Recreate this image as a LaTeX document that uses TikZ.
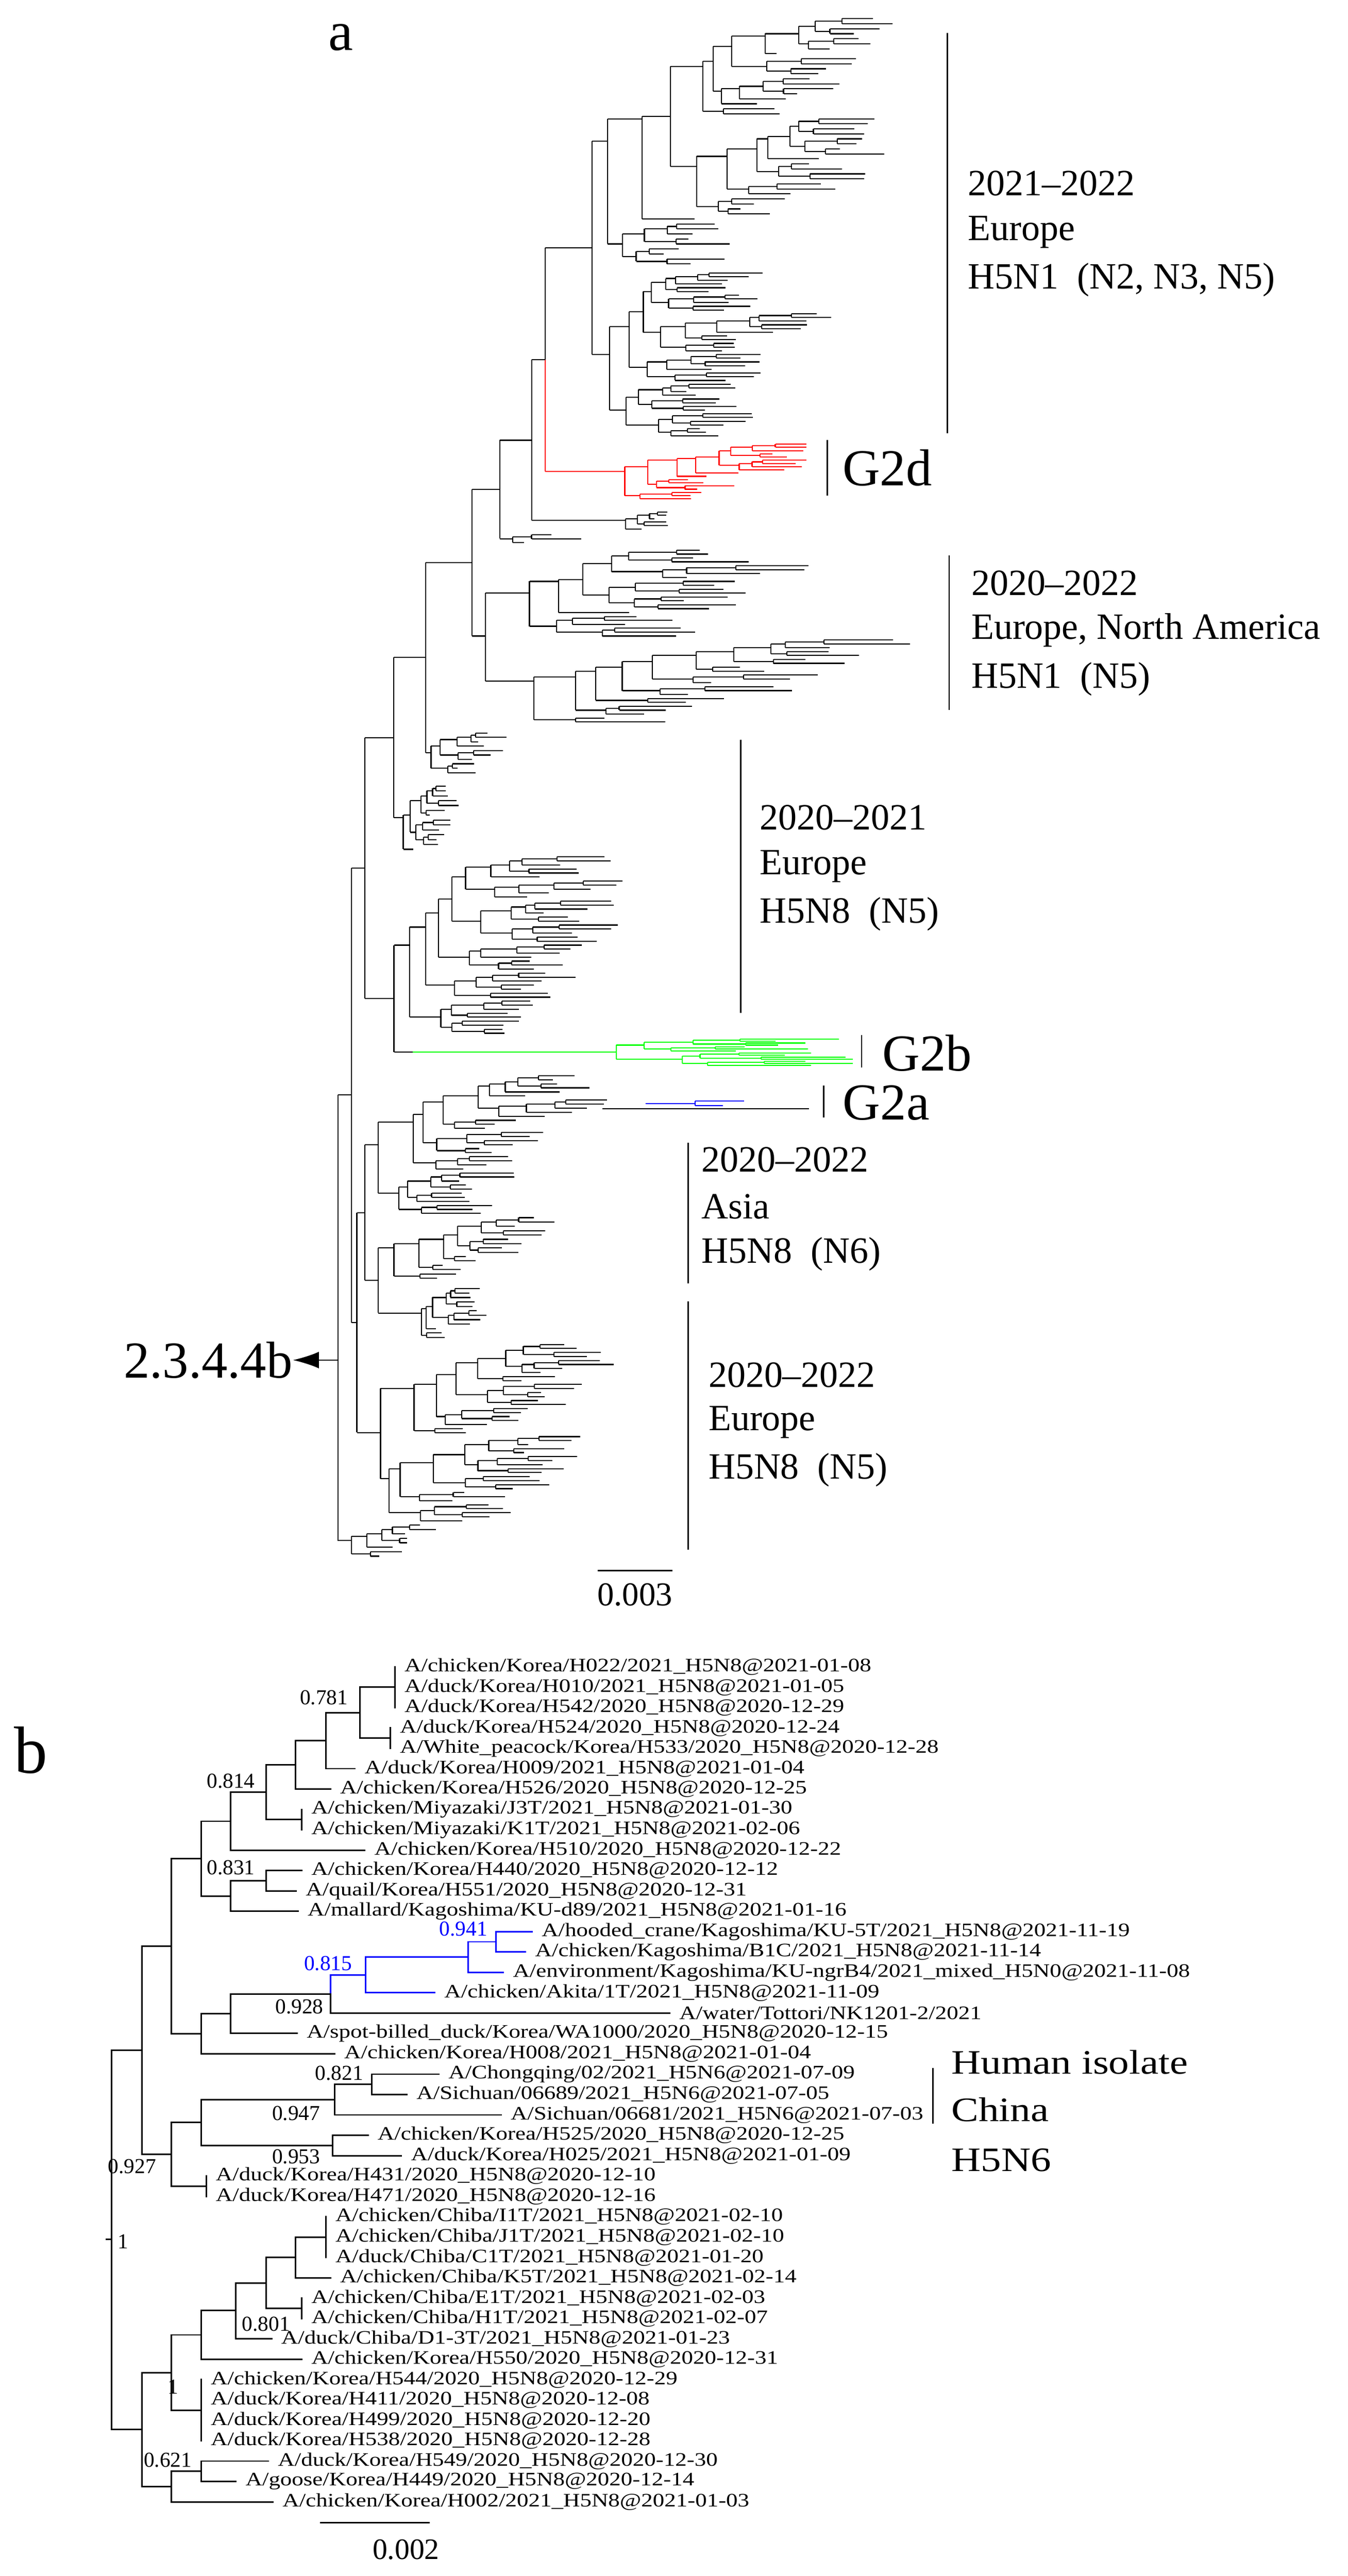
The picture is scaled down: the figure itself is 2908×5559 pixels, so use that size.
\documentclass[tikz,border=0pt]{standalone}
\usepackage{fontspec}
\setmainfont{Liberation Serif}
\usepackage{graphicx}
\usetikzlibrary{arrows.meta}
\newcommand\Yb[1]{{3597+(#1-1)*43.95}}
\newcommand\V[4][]{\draw[bl,#1] (#2,\Yb{#3})--(#2,\Yb{#4});}
\newcommand\Hb[4][]{\draw[bl,#1] (#2,\Yb{#4})--(#3,\Yb{#4});}
\newcommand\lf[3]{\node[lab] at ({#2+20},\Yb{#1}) {\scalebox{1}[0.82]{#3}};}
\def\lfac{1}
\newcommand\rt[5]{\begingroup
\pgfmathsetmacro\ym{\cyt+((#3+#4)/2-0.5)*\cdy}%
\draw[tl,\tc] (#1,\ym)--(#2,\ym);%
\ifnum#3<#4\relax
 \pgfmathtruncatemacro\nn{#4-#3}%
 \pgfmathsetmacro\pr{rnd}%
 \ifdim\pr pt<0.3pt \pgfmathtruncatemacro\sm{int((\nn+1)/2)}%
 \else \pgfmathtruncatemacro\sm{random(1,int(\nn/3)+1)}\fi
 \pgfmathtruncatemacro\kk{#4-\sm}%
 \pgfmathtruncatemacro\kp{\kk+1}%
 \pgfmathsetmacro\yu{\cyt+((#3+\kk)/2-0.5)*\cdy}%
 \pgfmathsetmacro\yl{\cyt+((\kp+#4)/2-0.5)*\cdy}%
 \draw[tl,\tc] (#2,\yu)--(#2,\yl);%
 \ifnum#3=\kk\relax \pgfmathsetmacro\xu{min(#5,#2+(0.2+rnd)*\Ll)}\else \pgfmathsetmacro\xu{max(#2+2,min(#5-20,#2+(0.3+rnd)*\Li))}\fi
 \ifnum\kp=#4\relax \pgfmathsetmacro\xl{min(#5,#2+(0.2+rnd)*\Ll)}\else \pgfmathsetmacro\xl{max(#2+2,min(#5-20,#2+(0.3+rnd)*\Li))}\fi
 \edef\next{\noexpand\rt{#2}{\xu}{#3}{\kk}{#5}\noexpand\rt{#2}{\xl}{\kp}{#4}{#5}}\next
\fi\endgroup}
\newcommand\clade[7]{\def\tc{#7}\pgfmathsetmacro\cyt{#3}\pgfmathsetmacro\cdy{(#4-#3)/#5}%
 \pgfmathsetmacro\Li{\lfac*(#6-#2)/11}\pgfmathsetmacro\Ll{\lfac*(#6-#2)/6}%
 \rt{#1}{#2}{1}{#5}{#6}}
\begin{document}
\begin{tikzpicture}[x=0.25pt,y=-0.25pt,
 tl/.style={line width=0.6pt},
 bl/.style={line width=0.8pt,line cap=rect},
 bar/.style={line width=0.7pt},
 lab/.style={anchor=west,inner sep=0pt,font=\fontsize{12.5}{13}\selectfont},
 sup/.style={inner sep=0pt,font=\fontsize{11.5}{12}\selectfont},
 ta/.style={anchor=west,inner sep=0pt,font=\fontsize{20}{22}\selectfont},
 tg/.style={anchor=west,inner sep=0pt,font=\fontsize{28}{30}\selectfont}]
\useasboundingbox (0,0) rectangle (2908,5559);
\pgfmathsetseed{4711}
% ---------- part a ----------
\node[inner sep=0pt,font=\fontsize{30}{32}\selectfont] at (735,81) {a};
\clade{1277}{1311}{35}{575}{50}{1956}{black}
\clade{1277}{1315}{585}{945}{45}{1935}{black}
\draw[tl] (1277,305)--(1277,765);
\draw[tl] (1176,535)--(1277,535);
\draw[tl] (1176,535)--(1176,776);
\draw[tl,red] (1176,776)--(1176,1017);
\def\lfac{1.5}
\clade{1176}{1348}{955}{1080}{18}{1740}{red}
\def\lfac{1}
\draw[tl] (1147,776)--(1176,776);
\draw[tl] (1147,776)--(1147,1123);
\clade{1147}{1350}{1101}{1145}{6}{1626}{black}
\draw[tl] (1078,950)--(1147,950);
\draw[tl] (1078,950)--(1078,1162);
\clade{1078}{1106}{1150}{1175}{3}{1650}{black}
\draw[tl] (1018,1056)--(1078,1056);
\draw[tl] (1018,1056)--(1018,1372);
\clade{1018}{1047}{1183}{1562}{45}{2022}{black}
\draw[tl] (918,1214)--(1018,1214);
\draw[tl] (918,1214)--(918,1624);
\clade{918}{930}{1577}{1672}{10}{1275}{black}
\draw[tl] (849,1419)--(918,1419);
\draw[tl] (849,1419)--(849,1764);
\clade{849}{870}{1691}{1838}{14}{1085}{black}
\draw[tl] (787,1592)--(849,1592);
\draw[tl] (850,2040)--(850,2270);
\clade{850}{884}{1845}{2234}{45}{1554}{black}
\draw[tl] (850,2270)--(891,2270);
\def\lfac{2.4}
\clade{891}{1330}{2240}{2301}{14}{1840}{green}
\def\lfac{1}
\draw[tl] (787,2155)--(850,2155);
\draw[tl] (787,1592)--(787,2155);
\draw[tl] (758,1873)--(787,1873);
\clade{787}{816}{2317}{2623}{35}{1466}{black}
\draw[tl,blue] (1393,2381)--(1500,2381);
\draw[tl,blue] (1500,2376)--(1500,2386);
\draw[tl,blue] (1500,2376)--(1605,2376);
\draw[tl,blue] (1500,2386)--(1560,2386);
\draw[tl] (1300,2393)--(1745,2393);
\draw[tl] (816,2693)--(816,2833);
\clade{816}{850}{2623}{2763}{15}{1378}{black}
\clade{816}{909}{2776}{2891}{12}{1202}{black}
\draw[tl] (787,2763)--(816,2763);
\draw[tl] (787,2470)--(787,2763);
\draw[tl] (770,2617)--(787,2617);
\draw[tl] (770,2617)--(770,3091);
\clade{770}{821}{2897}{3286}{45}{1459}{black}
\draw[tl] (758,2854)--(770,2854);
\draw[tl] (758,1873)--(758,2854);
\draw[tl] (729,2363)--(758,2363);
\clade{729}{758}{3286}{3363}{8}{1114}{black}
\draw[tl] (729,2363)--(729,3325);
\coordinate (rootA) at (729,2935);
\node[inner sep=0pt,anchor=east,font=\fontsize{28}{30}\selectfont] (lab234) at (632,2935) {2.3.4.4b};
\draw[tl,-{Latex[length=14pt,width=9pt]}] (rootA) -- (lab234.east);
% bars and clade labels
\draw[bar] (2044,71)--(2044,935);
\node[ta] at (2088,396) {2021–2022};
\node[ta] at (2088,501) {Europe};
\node[ta] at (2088,604) {H5N1\ \ (N2, N3, N5)};
\draw[bar] (1785,949)--(1785,1069);
\node[tg] at (1817,1009) {G2d};
\draw[bar] (2048,1199)--(2048,1532);
\node[ta] at (2095,1259) {2020–2022};
\node[ta] at (2095,1360) {Europe, North America};
\node[ta] at (2095,1465) {H5N1\ \ (N5)};
\draw[bar] (1598,1596)--(1598,2186);
\node[ta] at (1639,1764) {2020–2021};
\node[ta] at (1639,1870) {Europe};
\node[ta] at (1639,1972) {H5N8\ \ (N5)};
\draw[bar] (1859,2234)--(1859,2304);
\node[tg] at (1903,2272) {G2b};
\draw[bar] (1777,2342)--(1777,2412);
\node[tg] at (1818,2380) {G2a};
\draw[bar] (1485,2466)--(1485,2770);
\node[ta] at (1513,2502) {2020–2022};
\node[ta] at (1513,2604) {Asia};
\node[ta] at (1513,2706) {H5N8\ \ (N6)};
\draw[bar] (1485,2808)--(1485,3344);
\node[ta] at (1528,2967) {2020–2022};
\node[ta] at (1528,3069) {Europe};
\node[ta] at (1528,3172) {H5N8\ \ (N5)};
\draw[bar] (1290,3389)--(1451,3389);
\node[inner sep=0pt,font=\fontsize{18}{20}\selectfont] at (1370,3442) {0.003};
% ---------- part b ----------
\node[inner sep=0pt,font=\fontsize{36}{38}\selectfont] at (67,3777) {b};
\V{852}{1}{3}
\V{842}{4}{5}
\V{777}{2}{4.5} \Hb{777}{852}{2} \Hb{777}{842}{4.5}
\V{703}{3.25}{6} \Hb{703}{777}{3.25} \Hb{703}{766}{6}
\V{638}{4.625}{7} \Hb{638}{703}{4.625} \Hb{638}{713}{7}
\V{651}{8}{9}
\V{574}{5.81}{8.5} \Hb{574}{638}{5.81} \Hb{574}{651}{8.5}
\V{498}{7.16}{10} \Hb{498}{574}{7.16} \Hb{498}{787}{10}
\V{574}{11}{12} \Hb{574}{651}{11} \Hb{574}{639}{12}
\V{498}{11.5}{13} \Hb{498}{574}{11.5} \Hb{498}{643}{13}
\V{434}{8.58}{12.25} \Hb{434}{498}{8.58} \Hb{434}{498}{12.25}
\V[blue]{1070}{14}{15} \Hb[blue]{1070}{1148}{14} \Hb[blue]{1070}{1134}{15}
\V[blue]{1010}{14.5}{16} \Hb[blue]{1010}{1070}{14.5} \Hb[blue]{1010}{1086}{16}
\V[blue]{789}{15.25}{17} \Hb[blue]{789}{1010}{15.25} \Hb[blue]{789}{938}{17}
\V[blue]{713}{16.125}{17.06} \V{713}{17.06}{18} \Hb[blue]{713}{789}{16.125} \Hb{713}{1445}{18}
\V{498}{17.06}{19} \Hb{498}{713}{17.06} \Hb{498}{641}{19}
\V{434}{18.03}{20} \Hb{434}{498}{18.03} \Hb{434}{722}{20}
\V{370}{10.41}{19.02} \Hb{370}{434}{10.41} \Hb{370}{434}{19.02}
\V{802}{21}{22} \Hb{802}{947}{21} \Hb{802}{878}{22}
\V{722}{21.5}{23} \Hb{722}{802}{21.5} \Hb{722}{1081}{23}
\V{718}{24}{25} \Hb{718}{794}{24} \Hb{718}{866}{25}
\V{434}{22.25}{24.5} \Hb{434}{722}{22.25} \Hb{434}{718}{24.5}
\V{445}{26}{27}
\V{370}{23.375}{26.5} \Hb{370}{434}{23.375} \Hb{370}{445}{26.5}
\V{306}{14.71}{24.94} \Hb{306}{370}{14.71} \Hb{306}{370}{24.94}
\V{703}{28}{30}
\V{638}{29}{31} \Hb{638}{703}{29} \Hb{638}{713}{31}
\V{651}{32}{33}
\V{574}{30}{32.5} \Hb{574}{638}{30} \Hb{574}{651}{32.5}
\V{509}{31.25}{34} \Hb{509}{574}{31.25} \Hb{509}{586}{34}
\V{434}{32.6}{35} \Hb{434}{509}{32.6} \Hb{434}{651}{35}
\V{434}{36}{39}
\V{370}{33.8}{37.5} \Hb{370}{434}{33.8} \Hb{370}{434}{37.5}
\V{434}{40}{41} \Hb{434}{579}{40} \Hb{434}{509}{41}
\V{370}{40.5}{42} \Hb{370}{434}{40.5} \Hb{370}{589}{42}
\V{306}{35.65}{41.25} \Hb{306}{370}{35.65} \Hb{306}{370}{41.25}
\V{241}{19.82}{38.45} \Hb{241}{306}{19.82} \Hb{241}{306}{38.45} \Hb{230}{241}{29.1}
% leaf labels
\lf{1}{852}{A/chicken/Korea/H022/2021\_H5N8@2021-01-08}
\lf{2}{852}{A/duck/Korea/H010/2021\_H5N8@2021-01-05}
\lf{3}{852}{A/duck/Korea/H542/2020\_H5N8@2020-12-29}
\lf{4}{842}{A/duck/Korea/H524/2020\_H5N8@2020-12-24}
\lf{5}{842}{A/White\_peacock/Korea/H533/2020\_H5N8@2020-12-28}
\lf{6}{766}{A/duck/Korea/H009/2021\_H5N8@2021-01-04}
\lf{7}{713}{A/chicken/Korea/H526/2020\_H5N8@2020-12-25}
\lf{8}{651}{A/chicken/Miyazaki/J3T/2021\_H5N8@2021-01-30}
\lf{9}{651}{A/chicken/Miyazaki/K1T/2021\_H5N8@2021-02-06}
\lf{10}{787}{A/chicken/Korea/H510/2020\_H5N8@2020-12-22}
\lf{11}{651}{A/chicken/Korea/H440/2020\_H5N8@2020-12-12}
\lf{12}{639}{A/quail/Korea/H551/2020\_H5N8@2020-12-31}
\lf{13}{643}{A/mallard/Kagoshima/KU-d89/2021\_H5N8@2021-01-16}
\lf{14}{1148}{A/hooded\_crane/Kagoshima/KU-5T/2021\_H5N8@2021-11-19}
\lf{15}{1134}{A/chicken/Kagoshima/B1C/2021\_H5N8@2021-11-14}
\lf{16}{1086}{A/environment/Kagoshima/KU-ngrB4/2021\_mixed\_H5N0@2021-11-08}
\lf{17}{938}{A/chicken/Akita/1T/2021\_H5N8@2021-11-09}
\lf{18}{1445}{A/water/Tottori/NK1201-2/2021}
\lf{19}{641}{A/spot-billed\_duck/Korea/WA1000/2020\_H5N8@2020-12-15}
\lf{20}{722}{A/chicken/Korea/H008/2021\_H5N8@2021-01-04}
\lf{21}{947}{A/Chongqing/02/2021\_H5N6@2021-07-09}
\lf{22}{878}{A/Sichuan/06689/2021\_H5N6@2021-07-05}
\lf{23}{1081}{A/Sichuan/06681/2021\_H5N6@2021-07-03}
\lf{24}{794}{A/chicken/Korea/H525/2020\_H5N8@2020-12-25}
\lf{25}{866}{A/duck/Korea/H025/2021\_H5N8@2021-01-09}
\lf{26}{445}{A/duck/Korea/H431/2020\_H5N8@2020-12-10}
\lf{27}{445}{A/duck/Korea/H471/2020\_H5N8@2020-12-16}
\lf{28}{703}{A/chicken/Chiba/I1T/2021\_H5N8@2021-02-10}
\lf{29}{703}{A/chicken/Chiba/J1T/2021\_H5N8@2021-02-10}
\lf{30}{703}{A/duck/Chiba/C1T/2021\_H5N8@2021-01-20}
\lf{31}{713}{A/chicken/Chiba/K5T/2021\_H5N8@2021-02-14}
\lf{32}{651}{A/chicken/Chiba/E1T/2021\_H5N8@2021-02-03}
\lf{33}{651}{A/chicken/Chiba/H1T/2021\_H5N8@2021-02-07}
\lf{34}{586}{A/duck/Chiba/D1-3T/2021\_H5N8@2021-01-23}
\lf{35}{651}{A/chicken/Korea/H550/2020\_H5N8@2020-12-31}
\lf{36}{434}{A/chicken/Korea/H544/2020\_H5N8@2020-12-29}
\lf{37}{434}{A/duck/Korea/H411/2020\_H5N8@2020-12-08}
\lf{38}{434}{A/duck/Korea/H499/2020\_H5N8@2020-12-20}
\lf{39}{434}{A/duck/Korea/H538/2020\_H5N8@2020-12-28}
\lf{40}{579}{A/duck/Korea/H549/2020\_H5N8@2020-12-30}
\lf{41}{509}{A/goose/Korea/H449/2020\_H5N8@2020-12-14}
\lf{42}{589}{A/chicken/Korea/H002/2021\_H5N8@2021-01-03}
% support values
\node[sup] at (699,3663) {0.781};
\node[sup] at (498,3843) {0.814};
\node[sup] at (498,4030) {0.831};
\node[sup,blue] at (1000,4163) {0.941};
\node[sup,blue] at (708,4237) {0.815};
\node[sup] at (646,4330) {0.928};
\node[sup] at (732,4474) {0.821};
\node[sup] at (639,4561) {0.947};
\node[sup] at (639,4654) {0.953};
\node[sup] at (285,4675) {0.927};
\node[sup] at (266,4837) {1};
\node[sup] at (574,5015) {0.801};
\node[sup] at (373,5151) {1};
\node[sup] at (362,5309) {0.621};
% human isolate
\draw[bar] (2013,4463)--(2013,4583);
\node[anchor=west,inner sep=0pt,font=\fontsize{22}{24}\selectfont] at (2052,4450) {\scalebox{1}[0.84]{Human isolate}};
\node[anchor=west,inner sep=0pt,font=\fontsize{22}{24}\selectfont] at (2052,4553) {\scalebox{1}[0.84]{China}};
\node[anchor=west,inner sep=0pt,font=\fontsize{22}{24}\selectfont] at (2052,4662) {\scalebox{1}[0.84]{H5N6}};
% scale bar b
\draw[bl] (692,5444)--(926,5444);
\node[inner sep=0pt,font=\fontsize{16}{18}\selectfont] at (876,5502) {0.002};
\end{tikzpicture}
\end{document}
